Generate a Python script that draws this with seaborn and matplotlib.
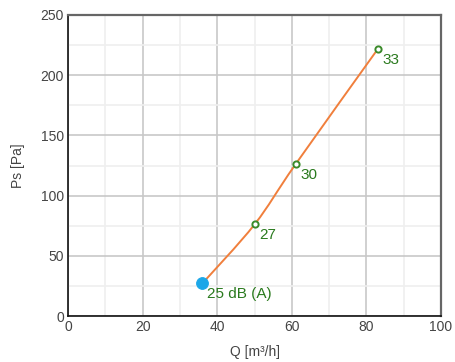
import numpy as np
import matplotlib
matplotlib.use("Agg")
import matplotlib.pyplot as plt
from matplotlib.path import Path
from matplotlib.patches import PathPatch
import seaborn as sns
import pandas as pd

sns.set_theme(style="white")
plt.rcParams['font.family'] = ['Liberation Sans', 'DejaVu Sans']

q = [36.0, 50.0, 61.0, 83.0]
ps = [27.0, 76.0, 126.0, 221.5]
labels = ["25 dB (A)", "27", "30", "33"]
x_ticks = [0, 20, 40, 60, 80, 100]
y_ticks = [0, 50, 100, 150, 200, 250]

df = pd.DataFrame({"Q": q, "Ps": ps, "label": labels})

fig = plt.figure(figsize=(4.55, 3.62), dpi=100)
ax = fig.add_axes([68/455, (362-316)/362, (441-68)/455, (316-15)/362])

ax.set_xlim(0, 100)
ax.set_ylim(0, 250)
ax.set_xticks(x_ticks)
ax.set_yticks(y_ticks)
ax.set_xticks(np.arange(10, 100, 20), minor=True)
ax.set_yticks(np.arange(25, 250, 50), minor=True)
ax.grid(True, which="major", color="#c8c8c8", lw=1.2)
ax.grid(True, which="minor", color="#efefef", lw=1.2)
ax.set_axisbelow(True)

# smooth curve (Catmull-Rom -> Bezier) through the data points, in data coords
pts = np.column_stack([np.array(q), np.array(ps)])
verts = [pts[0]]
codes = [Path.MOVETO]
n = len(pts)
for i in range(n - 1):
    p0 = pts[i - 1] if i > 0 else pts[i]
    p1 = pts[i]
    p2 = pts[i + 1]
    p3 = pts[i + 2] if i + 2 < n else pts[i + 1]
    c1 = p1 + (p2 - p0) / 6.0
    c2 = p2 - (p3 - p1) / 6.0
    verts += [c1, c2, p2]
    codes += [Path.CURVE4] * 3
ax.add_patch(PathPatch(Path(verts, codes), fill=False, edgecolor="#f07f3c", lw=1.4, zorder=3))

sns.scatterplot(data=df.iloc[1:], x="Q", y="Ps", ax=ax, s=20, marker="o",
                facecolor="white", edgecolor="#3a8a2a", linewidth=1.4, zorder=4, legend=False)
sns.scatterplot(data=df.iloc[:1], x="Q", y="Ps", ax=ax, s=72, color="#1ba7e8",
                edgecolor="#1ba7e8", zorder=5, legend=False)

for i, row in df.iterrows():
    ax.annotate(row["label"], (row["Q"], row["Ps"]), xytext=(3.2, -2.6),
                textcoords="offset points", ha="left", va="top",
                color="#2a7a1e", fontsize=11, zorder=6)

for side in ["left", "bottom"]:
    ax.spines[side].set_color("#111111")
    ax.spines[side].set_linewidth(1.2)
for side in ["top", "right"]:
    ax.spines[side].set_color("#666666")
    ax.spines[side].set_linewidth(1.6)

ax.tick_params(axis="both", labelsize=10, labelcolor="#444444", length=0, pad=3)
ax.set_xlabel("Q [m³/h]", fontsize=10, color="#444444", labelpad=8)
ax.set_ylabel("Ps [Pa]", fontsize=10, color="#444444", labelpad=11)

fig.savefig("out.png", dpi=100)
